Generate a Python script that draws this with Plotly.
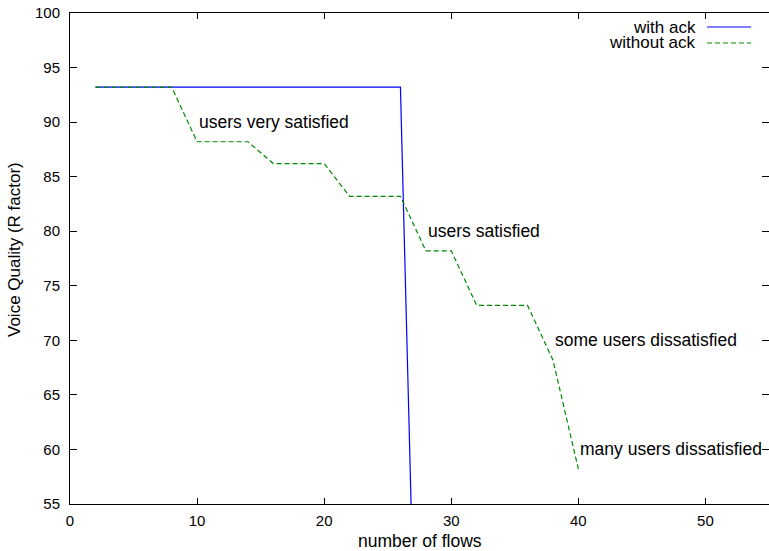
import plotly.graph_objects as go

# Data
flows_ack = [2, 4, 6, 8, 10, 12, 14, 16, 18, 20, 22, 24, 26, 28]
r_ack = [93.2, 93.2, 93.2, 93.2, 93.2, 93.2, 93.2, 93.2, 93.2, 93.2, 93.2, 93.2, 93.2, 2.0]

flows_noack = [2, 4, 6, 8, 10, 12, 14, 16, 18, 20, 22, 24, 26, 28, 30, 32, 34, 36, 38, 40]
r_noack = [93.2, 93.2, 93.2, 93.2, 88.2, 88.2, 88.2, 86.2, 86.2, 86.2, 83.2, 83.2, 83.2,
           78.2, 78.2, 73.2, 73.2, 73.2, 68.2, 58.2]

label_texts = ["users very satisfied", "users satisfied", "some users dissatisfied", "many users dissatisfied"]
label_x = [10, 28, 38, 40]
label_y = [90, 80, 70, 60]

series_names = ["with ack", "without ack"]
x_ticks = [0, 10, 20, 30, 40, 50]
y_ticks = [55, 60, 65, 70, 75, 80, 85, 90, 95, 100]

FONT = "Liberation Sans, Arial, Helvetica, sans-serif"
FS = 17.5
TFS = 15
BLUE = "#0000ff"
GREEN = "#008a00"

fig = go.Figure()
fig.add_trace(go.Scatter(x=flows_ack, y=r_ack, mode="lines", name=series_names[0],
                         line=dict(color=BLUE, width=1.2), showlegend=False))
fig.add_trace(go.Scatter(x=flows_noack, y=r_noack, mode="lines", name=series_names[1],
                         line=dict(color=GREEN, width=1.2, dash="5px,3px"), showlegend=False))

annotations = []
for t, xx, yy in zip(label_texts, label_x, label_y):
    annotations.append(dict(x=xx, y=yy, xref="x", yref="y", text=t, showarrow=False,
                            xanchor="left", yanchor="middle",
                            font=dict(family=FONT, size=FS, color="black")))

W, H = 769, 551
L, R, T, B = 70, 0, 13, 47
pw, ph = W - L - R, H - T - B
def px(xs):
    return (xs - L) / pw
def py(ys):
    return (H - B - ys) / ph

leg_y = [27, 43]
leg_dash = ["solid", "5px,3px"]
leg_col = [BLUE, GREEN]
shapes = []
for name, yy, dsh, col in zip(series_names, leg_y, leg_dash, leg_col):
    annotations.append(dict(x=px(698), y=py(yy), xref="paper", yref="paper", text=name,
                            showarrow=False, xanchor="right", yanchor="middle",
                            font=dict(family=FONT, size=17, color="black")))
    shapes.append(dict(type="line", xref="paper", yref="paper", x0=px(707), x1=px(751),
                       y0=py(yy), y1=py(yy), line=dict(color=col, width=1.2, dash=dsh)))

annotations.append(dict(x=px(420), y=py(541), xref="paper", yref="paper",
                        text="number of flows", showarrow=False, xanchor="center", yanchor="middle",
                        font=dict(family=FONT, size=FS, color="black")))
annotations.append(dict(x=px(14), y=py(250), xref="paper", yref="paper",
                        text="Voice Quality (R factor)", showarrow=False, textangle=-90,
                        xanchor="center", yanchor="middle",
                        font=dict(family=FONT, size=17, color="black")))

fig.update_layout(
    width=W, height=H,
    margin=dict(l=L, r=R, t=T, b=B, pad=0),
    plot_bgcolor="white", paper_bgcolor="white",
    annotations=annotations, shapes=shapes,
    showlegend=False,
    xaxis=dict(range=[0, 55], tickvals=x_ticks, ticks="inside", ticklen=6, tickcolor="black",
               showline=True, linecolor="black", linewidth=1, mirror="allticks",
               showgrid=False, zeroline=False, ticklabelstandoff=3,
               tickfont=dict(family=FONT, size=TFS, color="black")),
    yaxis=dict(range=[55, 100], tickvals=y_ticks, ticks="inside", ticklen=7, tickcolor="black",
               showline=True, linecolor="black", linewidth=1, mirror="allticks",
               showgrid=False, zeroline=False, ticklabelstandoff=6,
               tickfont=dict(family=FONT, size=TFS, color="black")),
)

fig.write_html(
    "out.html",
    config={"displayModeBar": False},
    post_script=("document.body.style.margin='0';"
                 "document.body.style.overflow='hidden';"
                 "document.documentElement.style.overflow='hidden';"),
)
